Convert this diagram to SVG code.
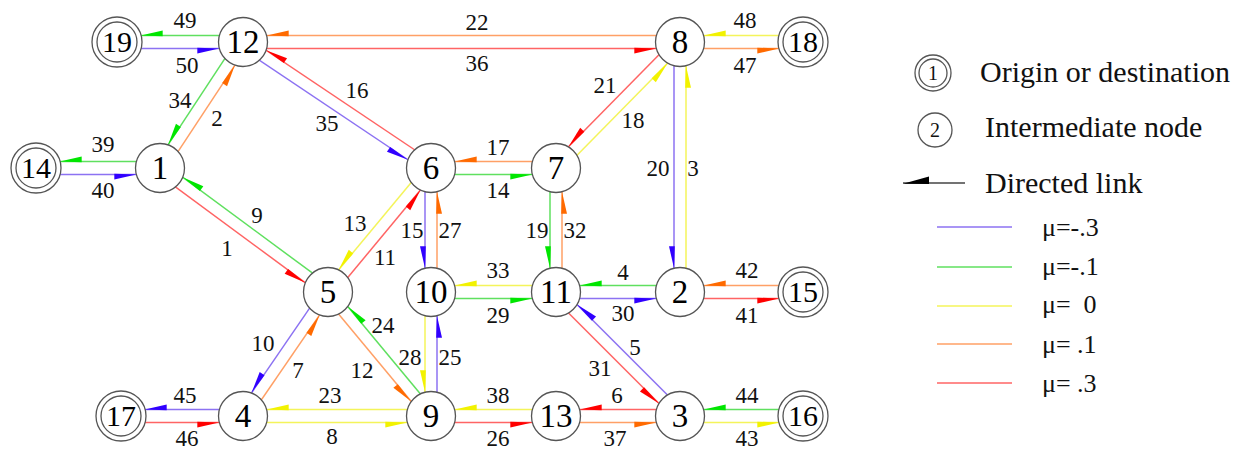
<svg xmlns="http://www.w3.org/2000/svg" width="1248" height="450" viewBox="0 0 1248 450" font-family="Liberation Serif, serif">
<style>
.nc{fill:#fff;stroke:#555;stroke-width:1.3}
line{stroke-width:1.5;fill:none}
.p{stroke:#8c72f2;marker-end:url(#aP)}
.g{stroke:#5fe05f;marker-end:url(#aG)}
.y{stroke:#f4f45a;marker-end:url(#aY)}
.o{stroke:#ffa066;marker-end:url(#aO)}
.r{stroke:#ff6464;marker-end:url(#aR)}
</style>
<defs>
<marker id="aP" markerUnits="userSpaceOnUse" orient="auto" overflow="visible" markerWidth="1" markerHeight="1"><path d="M-23.7,0 L-45.7,-0.8 L-45.7,5 Z" fill="#3000ff"/></marker>
<marker id="aG" markerUnits="userSpaceOnUse" orient="auto" overflow="visible" markerWidth="1" markerHeight="1"><path d="M-23.7,0 L-45.7,-0.8 L-45.7,5 Z" fill="#00e600"/></marker>
<marker id="aY" markerUnits="userSpaceOnUse" orient="auto" overflow="visible" markerWidth="1" markerHeight="1"><path d="M-23.7,0 L-45.7,-0.8 L-45.7,5 Z" fill="#f2f200"/></marker>
<marker id="aO" markerUnits="userSpaceOnUse" orient="auto" overflow="visible" markerWidth="1" markerHeight="1"><path d="M-23.7,0 L-45.7,-0.8 L-45.7,5 Z" fill="#ff6a00"/></marker>
<marker id="aR" markerUnits="userSpaceOnUse" orient="auto" overflow="visible" markerWidth="1" markerHeight="1"><path d="M-23.7,0 L-45.7,-0.8 L-45.7,5 Z" fill="#ff0000"/></marker>
</defs>
<rect width="1248" height="450" fill="#fff"/>
<g id="connectors">
<line class="g" x1="243" y1="35.5" x2="117" y2="35.5"/>
<line class="p" x1="117" y1="48.5" x2="243" y2="48.5"/>
<line class="o" x1="680" y1="35.5" x2="243" y2="35.5"/>
<line class="r" x1="243" y1="48.5" x2="680" y2="48.5"/>
<line class="y" x1="803" y1="35.5" x2="680" y2="35.5"/>
<line class="o" x1="680" y1="48.5" x2="803" y2="48.5"/>
<line class="g" x1="160" y1="161.5" x2="36" y2="161.5"/>
<line class="p" x1="36" y1="174.5" x2="160" y2="174.5"/>
<line class="o" x1="556" y1="161.5" x2="431" y2="161.5"/>
<line class="g" x1="431" y1="174.5" x2="556" y2="174.5"/>
<line class="y" x1="556" y1="285.5" x2="431" y2="285.5"/>
<line class="g" x1="431" y1="298.5" x2="556" y2="298.5"/>
<line class="g" x1="680" y1="285.5" x2="556" y2="285.5"/>
<line class="p" x1="556" y1="298.5" x2="680" y2="298.5"/>
<line class="o" x1="803" y1="285.5" x2="680" y2="285.5"/>
<line class="r" x1="680" y1="298.5" x2="803" y2="298.5"/>
<line class="p" x1="243" y1="409.5" x2="121" y2="409.5"/>
<line class="r" x1="121" y1="422.5" x2="243" y2="422.5"/>
<line class="y" x1="431" y1="409.5" x2="243" y2="409.5"/>
<line class="y" x1="243" y1="422.5" x2="431" y2="422.5"/>
<line class="y" x1="556" y1="409.5" x2="431" y2="409.5"/>
<line class="r" x1="431" y1="422.5" x2="556" y2="422.5"/>
<line class="r" x1="680" y1="409.5" x2="556" y2="409.5"/>
<line class="o" x1="556" y1="422.5" x2="680" y2="422.5"/>
<line class="g" x1="803" y1="409.5" x2="680" y2="409.5"/>
<line class="y" x1="680" y1="422.5" x2="803" y2="422.5"/>
<line class="p" x1="425" y1="168" x2="425" y2="292"/>
<line class="o" x1="437" y1="292" x2="437" y2="168"/>
<line class="y" x1="425" y1="292" x2="425" y2="416"/>
<line class="p" x1="437" y1="416" x2="437" y2="292"/>
<line class="g" x1="550" y1="168" x2="550" y2="292"/>
<line class="o" x1="562" y1="292" x2="562" y2="168"/>
<line class="p" x1="674" y1="42" x2="674" y2="292"/>
<line class="y" x1="686" y1="292" x2="686" y2="42"/>
<line class="g" x1="238" y1="38.7" x2="155" y2="164.7"/>
<line class="o" x1="165" y1="171.3" x2="248" y2="45.3"/>
<line class="p" x1="239.7" y1="47" x2="427.7" y2="173"/>
<line class="r" x1="434.3" y1="163" x2="246.3" y2="37"/>
<line class="r" x1="156.4" y1="172.8" x2="324.4" y2="296.8"/>
<line class="g" x1="331.6" y1="287.2" x2="163.6" y2="163.2"/>
<line class="y" x1="426.4" y1="164.2" x2="323.4" y2="288.2"/>
<line class="r" x1="332.6" y1="295.8" x2="435.6" y2="171.8"/>
<line class="r" x1="675.7" y1="37.8" x2="551.7" y2="163.8"/>
<line class="y" x1="560.3" y1="172.2" x2="684.3" y2="46.2"/>
<line class="p" x1="323" y1="288.6" x2="238" y2="412.6"/>
<line class="o" x1="248" y1="419.4" x2="333" y2="295.4"/>
<line class="o" x1="323.4" y1="295.8" x2="426.4" y2="419.8"/>
<line class="g" x1="435.6" y1="412.2" x2="332.6" y2="288.2"/>
<line class="r" x1="551.8" y1="296.2" x2="675.8" y2="420.2"/>
<line class="p" x1="684.2" y1="411.8" x2="560.2" y2="287.8"/>
</g>
<g id="link-labels" font-family="Liberation Serif, serif" font-size="23" text-anchor="middle" fill="#111">
<text font-family="Liberation Serif, serif" x="185" y="28">49</text>
<text font-family="Liberation Serif, serif" x="187" y="73">50</text>
<text font-family="Liberation Serif, serif" x="180" y="108">34</text>
<text font-family="Liberation Serif, serif" x="217" y="126">2</text>
<text font-family="Liberation Serif, serif" x="357" y="98">16</text>
<text font-family="Liberation Serif, serif" x="327" y="131">35</text>
<text font-family="Liberation Serif, serif" x="103" y="152">39</text>
<text font-family="Liberation Serif, serif" x="103" y="198">40</text>
<text font-family="Liberation Serif, serif" x="257" y="223">9</text>
<text font-family="Liberation Serif, serif" x="227" y="256">1</text>
<text font-family="Liberation Serif, serif" x="355" y="231">13</text>
<text font-family="Liberation Serif, serif" x="385" y="265">11</text>
<text font-family="Liberation Serif, serif" x="477" y="30">22</text>
<text font-family="Liberation Serif, serif" x="477" y="71">36</text>
<text font-family="Liberation Serif, serif" x="745" y="28">48</text>
<text font-family="Liberation Serif, serif" x="745" y="73">47</text>
<text font-family="Liberation Serif, serif" x="605" y="93">21</text>
<text font-family="Liberation Serif, serif" x="633" y="128">18</text>
<text font-family="Liberation Serif, serif" x="498" y="155">17</text>
<text font-family="Liberation Serif, serif" x="498" y="198">14</text>
<text font-family="Liberation Serif, serif" x="658" y="176">20</text>
<text font-family="Liberation Serif, serif" x="693" y="176">3</text>
<text font-family="Liberation Serif, serif" x="412" y="238">15</text>
<text font-family="Liberation Serif, serif" x="450" y="238">27</text>
<text font-family="Liberation Serif, serif" x="537" y="238">19</text>
<text font-family="Liberation Serif, serif" x="575" y="238">32</text>
<text font-family="Liberation Serif, serif" x="498" y="278">33</text>
<text font-family="Liberation Serif, serif" x="623" y="280">4</text>
<text font-family="Liberation Serif, serif" x="747" y="278">42</text>
<text font-family="Liberation Serif, serif" x="498" y="323">29</text>
<text font-family="Liberation Serif, serif" x="623" y="321">30</text>
<text font-family="Liberation Serif, serif" x="747" y="323">41</text>
<text font-family="Liberation Serif, serif" x="635" y="355">5</text>
<text font-family="Liberation Serif, serif" x="600" y="376">31</text>
<text font-family="Liberation Serif, serif" x="498" y="403">38</text>
<text font-family="Liberation Serif, serif" x="617" y="403">6</text>
<text font-family="Liberation Serif, serif" x="747" y="403">44</text>
<text font-family="Liberation Serif, serif" x="498" y="446">26</text>
<text font-family="Liberation Serif, serif" x="615" y="446">37</text>
<text font-family="Liberation Serif, serif" x="747" y="446">43</text>
<text font-family="Liberation Serif, serif" x="263" y="351">10</text>
<text font-family="Liberation Serif, serif" x="298" y="378">7</text>
<text font-family="Liberation Serif, serif" x="383" y="333">24</text>
<text font-family="Liberation Serif, serif" x="362" y="378">12</text>
<text font-family="Liberation Serif, serif" x="410" y="365">28</text>
<text font-family="Liberation Serif, serif" x="450" y="365">25</text>
<text font-family="Liberation Serif, serif" x="185" y="403">45</text>
<text font-family="Liberation Serif, serif" x="187" y="446">46</text>
<text font-family="Liberation Serif, serif" x="330" y="403">23</text>
<text font-family="Liberation Serif, serif" x="332" y="444">8</text>
</g>
<g id="node-19"><circle class="nc" cx="117" cy="42" r="25"/><circle class="nc" cx="117" cy="42" r="20"/><text font-family="Liberation Serif, serif" font-size="30" text-anchor="middle" x="117" y="52">19</text></g>
<g id="node-18"><circle class="nc" cx="803" cy="42" r="25"/><circle class="nc" cx="803" cy="42" r="20"/><text font-family="Liberation Serif, serif" font-size="30" text-anchor="middle" x="803" y="52">18</text></g>
<g id="node-14"><circle class="nc" cx="36" cy="168" r="25"/><circle class="nc" cx="36" cy="168" r="20"/><text font-family="Liberation Serif, serif" font-size="30" text-anchor="middle" x="36" y="178">14</text></g>
<g id="node-15"><circle class="nc" cx="803" cy="292" r="25"/><circle class="nc" cx="803" cy="292" r="20"/><text font-family="Liberation Serif, serif" font-size="30" text-anchor="middle" x="803" y="302">15</text></g>
<g id="node-17"><circle class="nc" cx="121" cy="416" r="25"/><circle class="nc" cx="121" cy="416" r="20"/><text font-family="Liberation Serif, serif" font-size="30" text-anchor="middle" x="121" y="426">17</text></g>
<g id="node-16"><circle class="nc" cx="803" cy="416" r="25"/><circle class="nc" cx="803" cy="416" r="20"/><text font-family="Liberation Serif, serif" font-size="30" text-anchor="middle" x="803" y="426">16</text></g>
<g id="node-12"><circle class="nc" cx="243" cy="42" r="24.5"/><text font-family="Liberation Serif, serif" font-size="33" text-anchor="middle" x="243" y="53">12</text></g>
<g id="node-8"><circle class="nc" cx="680" cy="42" r="24.5"/><text font-family="Liberation Serif, serif" font-size="33" text-anchor="middle" x="680" y="53">8</text></g>
<g id="node-1"><circle class="nc" cx="160" cy="168" r="24.5"/><text font-family="Liberation Serif, serif" font-size="33" text-anchor="middle" x="160" y="179">1</text></g>
<g id="node-6"><circle class="nc" cx="431" cy="168" r="24.5"/><text font-family="Liberation Serif, serif" font-size="33" text-anchor="middle" x="431" y="179">6</text></g>
<g id="node-7"><circle class="nc" cx="556" cy="168" r="24.5"/><text font-family="Liberation Serif, serif" font-size="33" text-anchor="middle" x="556" y="179">7</text></g>
<g id="node-5"><circle class="nc" cx="328" cy="292" r="24.5"/><text font-family="Liberation Serif, serif" font-size="33" text-anchor="middle" x="328" y="303">5</text></g>
<g id="node-10"><circle class="nc" cx="431" cy="292" r="24.5"/><text font-family="Liberation Serif, serif" font-size="33" text-anchor="middle" x="431" y="303">10</text></g>
<g id="node-11"><circle class="nc" cx="556" cy="292" r="24.5"/><text font-family="Liberation Serif, serif" font-size="33" text-anchor="middle" x="556" y="303">11</text></g>
<g id="node-2"><circle class="nc" cx="680" cy="292" r="24.5"/><text font-family="Liberation Serif, serif" font-size="33" text-anchor="middle" x="680" y="303">2</text></g>
<g id="node-4"><circle class="nc" cx="243" cy="416" r="24.5"/><text font-family="Liberation Serif, serif" font-size="33" text-anchor="middle" x="243" y="427">4</text></g>
<g id="node-9"><circle class="nc" cx="431" cy="416" r="24.5"/><text font-family="Liberation Serif, serif" font-size="33" text-anchor="middle" x="431" y="427">9</text></g>
<g id="node-13"><circle class="nc" cx="556" cy="416" r="24.5"/><text font-family="Liberation Serif, serif" font-size="33" text-anchor="middle" x="556" y="427">13</text></g>
<g id="node-3"><circle class="nc" cx="680" cy="416" r="24.5"/><text font-family="Liberation Serif, serif" font-size="33" text-anchor="middle" x="680" y="427">3</text></g>
<g id="legend" font-family="Liberation Serif, serif" fill="#111">
<circle class="nc" cx="933" cy="73" r="18"/><circle class="nc" cx="933" cy="73" r="14"/>
<text font-family="Liberation Serif, serif" x="933" y="80" font-size="20" text-anchor="middle">1</text>
<text font-family="Liberation Serif, serif" font-size="30" x="980" y="82">Origin or destination</text>
<circle class="nc" cx="935" cy="130" r="17"/>
<text font-family="Liberation Serif, serif" x="935" y="137" font-size="20" text-anchor="middle">2</text>
<text font-family="Liberation Serif, serif" font-size="30" x="985" y="137">Intermediate node</text>
<line x1="903" y1="183" x2="965" y2="183" stroke="#444"/>
<path d="M903,183.7 L929,176.5 L929,184 Z" fill="#000"/>
<text font-family="Liberation Serif, serif" font-size="30" x="985" y="193">Directed link</text>
<line x1="937" y1="227" x2="1012" y2="227" stroke="#8c72f2"/>
<line x1="937" y1="267" x2="1012" y2="267" stroke="#5fe05f"/>
<line x1="937" y1="306" x2="1012" y2="306" stroke="#f4f45a"/>
<line x1="937" y1="344" x2="1012" y2="344" stroke="#ffa066"/>
<line x1="937" y1="383" x2="1012" y2="383" stroke="#ff6464"/>
<text font-family="Liberation Serif, serif" font-size="26" x="1042" y="236">μ=-.3</text>
<text font-family="Liberation Serif, serif" font-size="26" x="1042" y="275">μ=-.1</text>
<text font-family="Liberation Serif, serif" font-size="26" x="1042" y="313" xml:space="preserve">μ=  0</text>
<text font-family="Liberation Serif, serif" font-size="26" x="1042" y="353">μ= .1</text>
<text font-family="Liberation Serif, serif" font-size="26" x="1042" y="392">μ= .3</text>
</g>
</svg>
